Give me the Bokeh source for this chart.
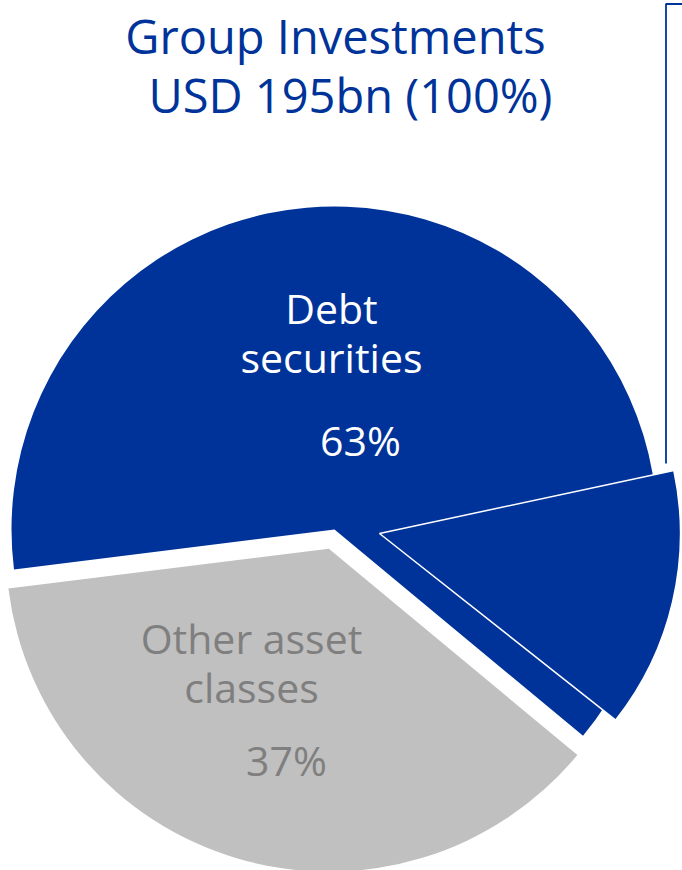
import numpy as np
from bokeh.plotting import figure
from bokeh.models import Range1d
from bokeh.core.properties import value
from bokeh.embed import file_html
from bokeh.resources import INLINE

# ---------------- data ----------------
categories = ["Debt securities", "Other asset classes"]
shares = [63, 37]                      # % of group investments
label_lines = [["Debt", "securities"], ["Other asset", "classes"]]
sub_share = 14                         # highlighted part of debt securities (%)
title_lines = ["Group Investments", "USD 195bn (100%)"]

# ---------------- styles / layout ----------------
BLUE = "#003399"
GREY = "#C0C0C0"
GREY_TXT = "#7F7F7F"
slice_colors = [BLUE, GREY]
text_colors = ["#FFFFFF", GREY_TXT]
explode = [0, 20]
FONT = value("Open Sans")

W, H = 682, 870
PAGE_H = 870
TEXT_DY = 16
def py(y):  # page pixel -> data y
    return PAGE_H - y

CX, CY, R = 334, py(529), 323
START_DEG = -39.7
SUB_CX, SUB_CY, SUB_R = 379, py(533), 301
SUB_START_DEG = -38.3

# label anchor (center x, baseline page y) per slice: lines then percentage
name_pos = [[(331, 323), (331, 372)], [(251, 653), (251, 702)]]
pct_pos = [(360, 455), (286, 775)]
title_pos = [(335, 51), (350, 110)]

p = figure(width=W, height=H, output_backend="svg", toolbar_location=None,
           x_range=Range1d(0, W), y_range=Range1d(PAGE_H - H, PAGE_H),
           x_axis_location=None, y_axis_location=None, min_border=0,
           background_fill_color="white", border_fill_color="white")
p.grid.visible = False
p.outline_line_color = None

# main pie
fr = np.array(shares, dtype=float) / sum(shares)
ends = np.radians(START_DEG) + np.cumsum(fr) * 2 * np.pi
starts = np.concatenate([[np.radians(START_DEG)], ends[:-1]])
mids = (starts + ends) / 2
xs = CX + np.array(explode) * np.cos(mids)
ys = CY + np.array(explode) * np.sin(mids)
p.wedge(x=list(xs), y=list(ys), radius=R, start_angle=list(starts), end_angle=list(ends),
        fill_color=slice_colors, line_color=None)

# highlighted sub-slice of debt securities
s0 = np.radians(SUB_START_DEG)
s1 = s0 + sub_share / 100 * 2 * np.pi
p.wedge(x=[SUB_CX], y=[SUB_CY], radius=SUB_R, start_angle=[s0], end_angle=[s1],
        fill_color=BLUE, line_color="white", line_width=1.5)

# callout leader line
lx = SUB_CX + (SUB_R - 8) * np.cos(s1)
p.line(x=[lx, lx, 700], y=[py(463), py(3.5), py(3.5)], line_color=BLUE, line_width=1.8)

# labels
for i in range(len(shares)):
    for (x, y), t in zip(name_pos[i], label_lines[i]):
        p.text(x=[x], y=[py(y - TEXT_DY)], text=[t], text_font=FONT, text_font_size="41px",
               text_align="center", text_baseline="alphabetic", text_color=text_colors[i])
    x, y = pct_pos[i]
    p.text(x=[x], y=[py(y - TEXT_DY)], text=[f"{shares[i]}%"], text_font=FONT,
           text_font_size="41px", text_align="center", text_baseline="alphabetic",
           text_color=text_colors[i])

# title
for (x, y), t in zip(title_pos, title_lines):
    p.text(x=[x], y=[py(y - TEXT_DY)], text=[t], text_font=FONT, text_font_size="47px",
           text_align="center", text_baseline="alphabetic", text_color=BLUE)

open("out.html", "w").write(file_html(p, INLINE))
